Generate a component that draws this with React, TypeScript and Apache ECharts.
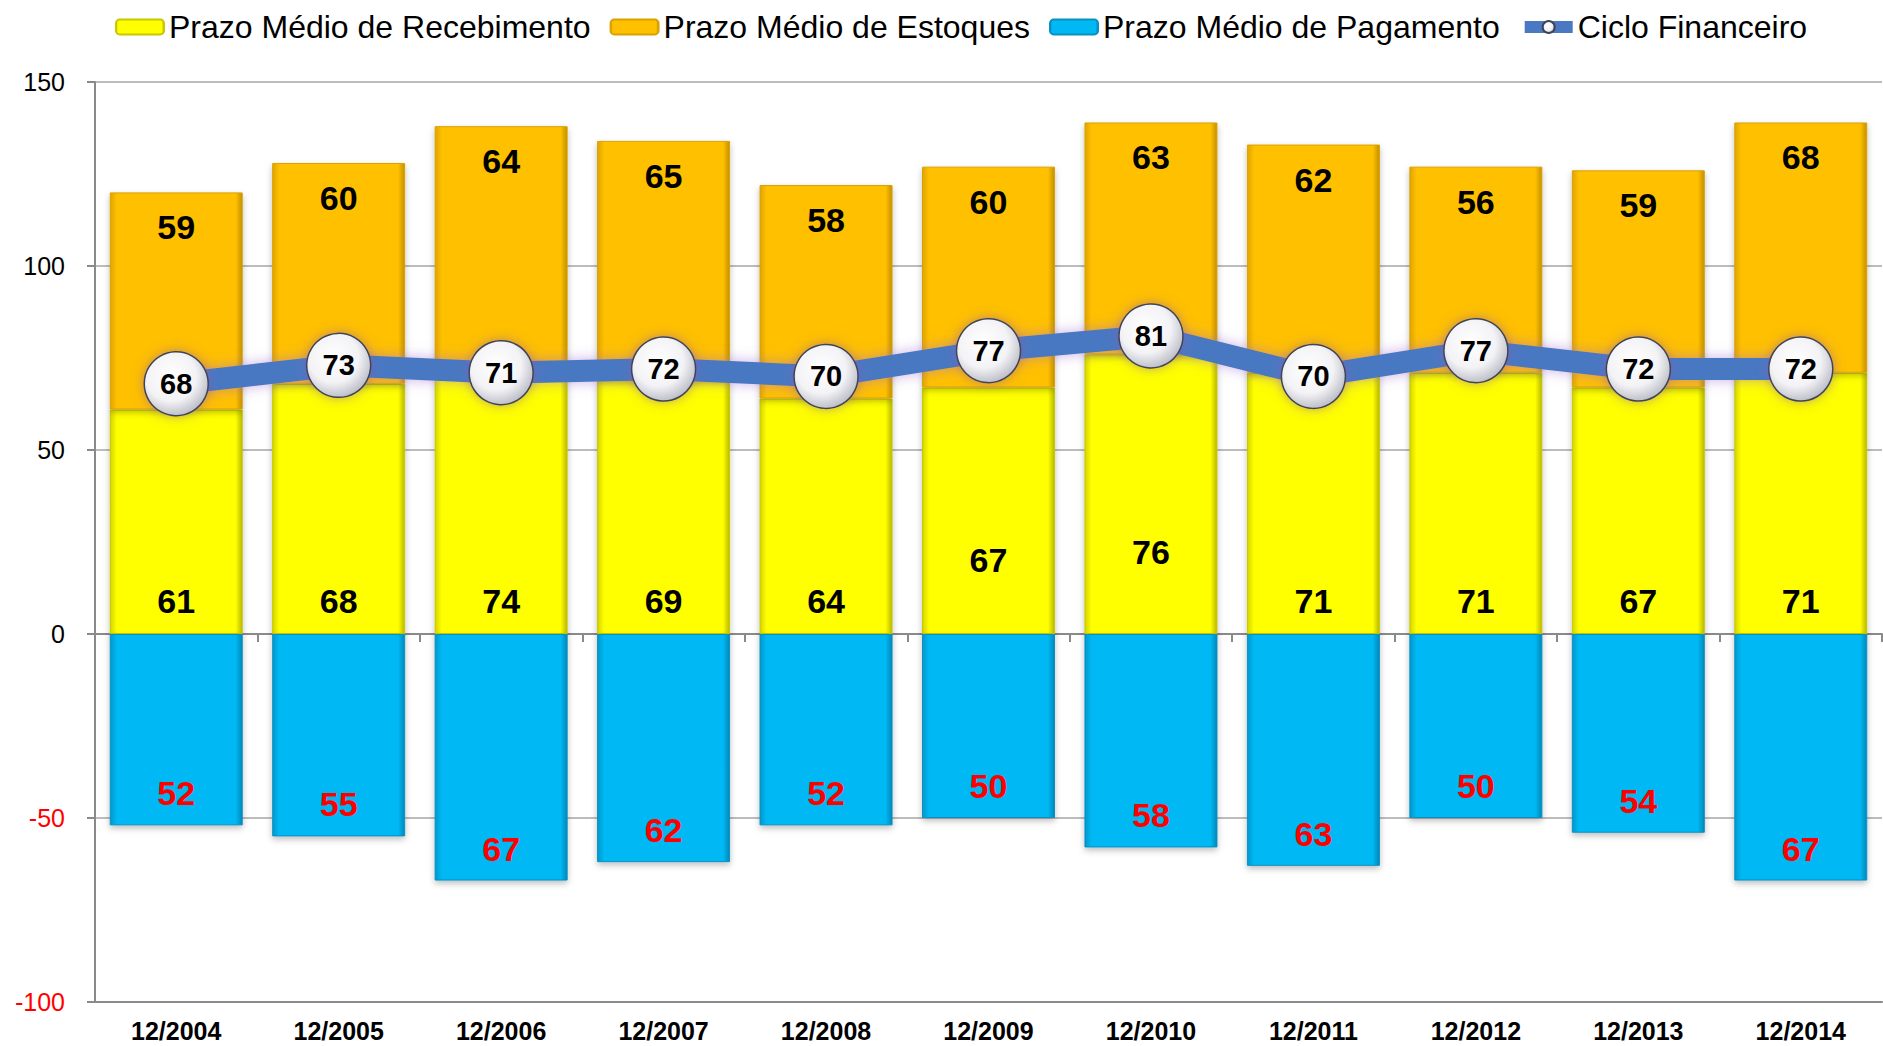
import React, { useEffect, useRef } from "react";
import * as echarts from "echarts";

const categories = ["12/2004", "12/2005", "12/2006", "12/2007", "12/2008", "12/2009", "12/2010", "12/2011", "12/2012", "12/2013", "12/2014"];
const recebimento = [61, 68, 74, 69, 64, 67, 76, 71, 71, 67, 71];
const estoques = [59, 60, 64, 65, 58, 60, 63, 62, 56, 59, 68];
const pagamento = [-52, -55, -67, -62, -52, -50, -58, -63, -50, -54, -67];
const ciclo = [68, 73, 71, 72, 70, 77, 81, 70, 77, 72, 72];
const seriesNames = ["Prazo Médio de Recebimento", "Prazo Médio de Estoques", "Prazo Médio de Pagamento", "Ciclo Financeiro"];
// label lifts (px) for yellow labels that were moved up in the original
const recebimentoLabelLift = [0, 0, 0, 0, 0, 41, 49, 0, 0, 0, 0];

const FONT = "'Liberation Sans', Arial, sans-serif";

function bevel(edge: string, main: string, edge2: string) {
  return new echarts.graphic.LinearGradient(0, 0, 1, 0, [
    { offset: 0, color: edge },
    { offset: 0.05, color: main },
    { offset: 0.95, color: main },
    { offset: 1, color: edge2 },
  ]);
}

export default function App() {
  const ref = useRef<HTMLDivElement>(null);
  useEffect(() => {
    if (!ref.current) return;
    const chart = echarts.init(ref.current, undefined, { renderer: "svg" });
    const barShadow = { shadowBlur: 6, shadowColor: "rgba(0,0,0,0.25)", shadowOffsetY: 3 };
    chart.setOption({
      animation: false,
      backgroundColor: "#ffffff",
      textStyle: { fontFamily: FONT },
      legend: {
        top: 6,
        left: 110,
        itemGap: 19,
        itemWidth: 48,
        itemHeight: 15,
        textStyle: { fontSize: 32, color: "#000", fontFamily: FONT },
        data: [
          seriesNames[0],
          seriesNames[1],
          seriesNames[2],
          { name: seriesNames[3], lineStyle: { width: 12, color: "#4a78c2" } },
        ],
      },
      grid: { left: 95, right: 1, top: 82, bottom: 44, containLabel: false },
      xAxis: [
        {
          type: "category",
          data: categories,
          position: "bottom",
          axisLine: { onZero: false, lineStyle: { color: "#8a8a8a", width: 2 } },
          axisTick: { show: false },
          axisLabel: { fontSize: 25, fontWeight: "bold", color: "#000", fontFamily: FONT, margin: 16 },
        },
        {
          type: "category",
          data: categories,
          position: "bottom",
          axisLine: { onZero: true, lineStyle: { color: "#8a8a8a", width: 2 } },
          axisTick: { show: true, length: 8, lineStyle: { color: "#8a8a8a", width: 2 } },
          axisLabel: { show: false },
        },
      ],
      yAxis: {
        type: "value",
        min: -100,
        max: 150,
        interval: 50,
        axisLine: { show: true, lineStyle: { color: "#8a8a8a", width: 2 } },
        axisTick: { show: true, length: 8, lineStyle: { color: "#8a8a8a", width: 2 } },
        splitLine: { show: true, lineStyle: { color: "#a6a6a6", width: 1.5 } },
        axisLabel: {
          fontSize: 25,
          fontFamily: FONT,
          margin: 30,
          color: (v: any) => (Number(v) < 0 ? "#ff0000" : "#000000"),
        },
      },
      series: [
        {
          name: seriesNames[0],
          type: "bar",
          stack: "total",
          barWidth: 133,
          data: recebimento.map((v, i) => ({
            value: v,
            label: { offset: [0, -recebimentoLabelLift[i]] },
          })),
          itemStyle: { color: bevel("#d4d400", "#ffff00", "#b8b800"), borderColor: "#c8c800", borderWidth: 1, ...barShadow },
          label: {
            show: true,
            position: "insideBottom",
            distance: 16,
            fontSize: 34,
            fontWeight: "bold",
            color: "#000",
            fontFamily: FONT,
          },
        },
        {
          name: seriesNames[1],
          type: "bar",
          stack: "total",
          barWidth: 133,
          data: estoques,
          itemStyle: { color: bevel("#e0a400", "#ffc000", "#c49000"), borderColor: "#d9a200", borderWidth: 1, ...barShadow },
          label: {
            show: true,
            position: "insideTop",
            distance: 18,
            fontSize: 34,
            fontWeight: "bold",
            color: "#000",
            fontFamily: FONT,
          },
        },
        {
          name: seriesNames[2],
          type: "bar",
          stack: "total",
          barWidth: 133,
          data: pagamento,
          itemStyle: { color: bevel("#0098cc", "#00b8f4", "#0088b8"), borderColor: "#0a8fc0", borderWidth: 1, ...barShadow },
          label: {
            show: true,
            position: "insideBottom",
            distance: 15,
            fontSize: 34,
            fontWeight: "bold",
            color: "#ff0000",
            fontFamily: FONT,
            formatter: (p: any) => String(Math.abs(p.value)),
          },
        },
        {
          name: seriesNames[3],
          type: "line",
          z: 5,
          data: ciclo,
          symbol: "circle",
          symbolSize: 64,
          lineStyle: { color: "#4a78c2", width: 22, shadowBlur: 14, shadowColor: "rgba(160,110,210,0.55)" },
          itemStyle: {
            color: new echarts.graphic.RadialGradient(0.42, 0.38, 0.65, [
              { offset: 0, color: "#ffffff" },
              { offset: 0.6, color: "#f3f3f6" },
              { offset: 1, color: "#b9bac4" },
            ]),
            borderColor: "#3e4456",
            borderWidth: 1.5,
            shadowBlur: 12,
            shadowColor: "rgba(140,90,170,0.55)",
          },
          label: {
            show: true,
            position: "inside",
            fontSize: 29,
            fontWeight: "bold",
            color: "#000",
            fontFamily: FONT,
          },
        },
      ],
    });
    return () => chart.dispose();
  }, []);
  return (
    <div
      ref={ref}
      style={{ position: "fixed", left: 0, top: 0, width: 1883, height: 1046 }}
    />
  );
}
